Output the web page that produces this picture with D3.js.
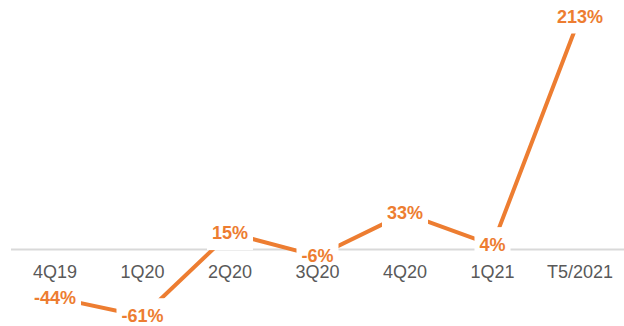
<!DOCTYPE html>
<html>
<head>
<meta charset="utf-8">
<script src="https://cdn.jsdelivr.net/npm/d3@7"></script>
<style>
  html, body { margin: 0; padding: 0; background: #fff; }
  svg { display: block; font-family: "Liberation Sans", Arial, sans-serif; }
</style>
</head>
<body>
<svg id="chart" width="624" height="326"></svg>
<script>
const categories = ["4Q19", "1Q20", "2Q20", "3Q20", "4Q20", "1Q21", "T5/2021"];
const values = [-44, -61, 15, -6, 33, 4, 213];
const labels = ["-44%", "-61%", "15%", "-6%", "33%", "4%", "213%"];

const W = 624, H = 326;
const svg = d3.select("#chart");

const x = d3.scalePoint().domain(categories).range([55, 580]);
const y = d3.scaleLinear().domain([0, 213]).range([249.5, 16.5]);

const orange = "#ED7D31";

const gBase = svg.append("g");
const gLine = svg.append("g");
const gBox = svg.append("g");
const gAxis = svg.append("g");
const gText = svg.append("g");

gBase.append("line")
  .attr("x1", 11).attr("x2", W)
  .attr("y1", y(0)).attr("y2", y(0))
  .attr("stroke", "#d9d9d9").attr("stroke-width", 2);

const data = categories.map((c, i) => ({ c, v: values[i], l: labels[i] }));
gLine.append("path")
  .datum(data)
  .attr("fill", "none")
  .attr("stroke", orange)
  .attr("stroke-width", 4)
  .attr("stroke-linejoin", "round")
  .attr("d", d3.line().x(d => x(d.c)).y(d => y(d.v)));

const texts = gText.selectAll("text").data(data).enter().append("text")
  .attr("x", d => x(d.c))
  .attr("y", d => y(d.v))
  .attr("text-anchor", "middle")
  .attr("dominant-baseline", "central")
  .attr("font-size", 18)
  .attr("font-weight", "bold")
  .attr("fill", orange)
  .text(d => d.l);

texts.each(function() {
  const b = this.getBBox();
  gBox.append("rect")
    .attr("x", b.x - 5).attr("y", b.y - 8)
    .attr("width", b.width + 10).attr("height", b.height + 15)
    .attr("fill", "#fff");
});

gAxis.selectAll("text").data(categories).enter().append("text")
  .attr("x", d => x(d))
  .attr("y", 278)
  .attr("text-anchor", "middle")
  .attr("font-size", 18)
  .attr("fill", "#595959")
  .text(d => d);
</script>
</body>
</html>
